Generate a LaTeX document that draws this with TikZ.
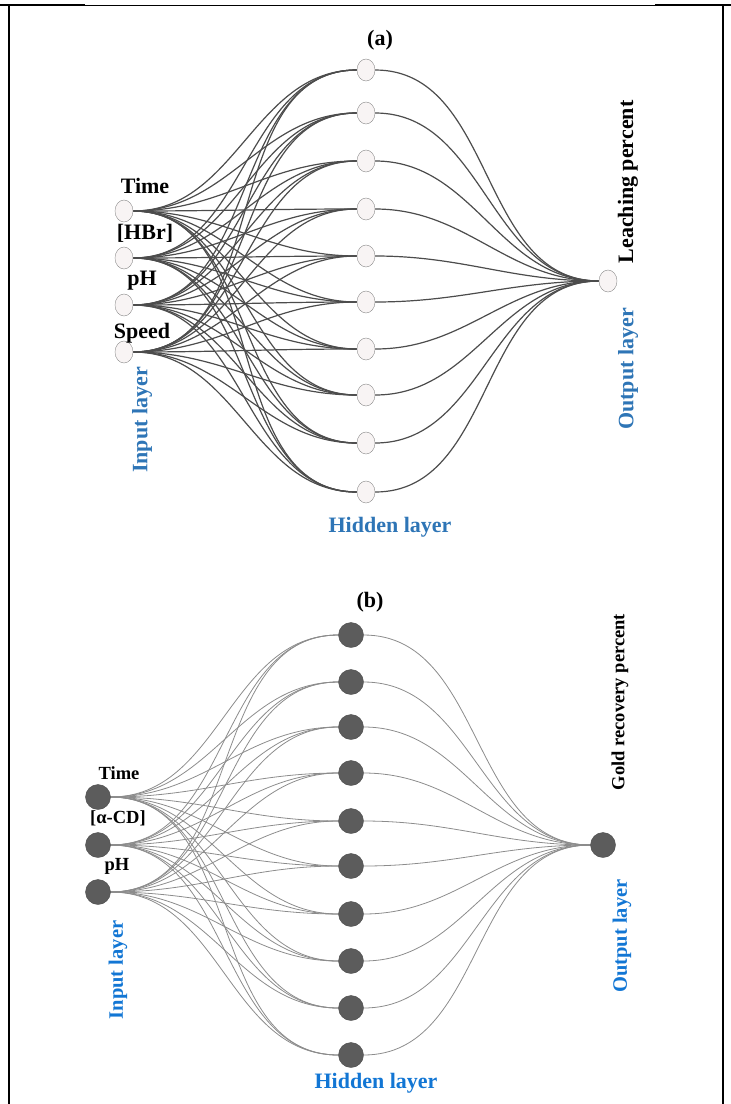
\documentclass[tikz,border=0pt]{standalone}
\usepackage{fontspec}
\setmainfont{Liberation Serif}
\usetikzlibrary{shapes.geometric, backgrounds}

\definecolor{layerblue}{RGB}{46,117,182}
\definecolor{layerblueb}{RGB}{18,118,212}
\definecolor{cellfill}{RGB}{248,244,244}
\definecolor{celldark}{RGB}{92,92,92}

\begin{document}
\begin{tikzpicture}[
    x=1pt, y=-1pt,
    neuron-a/.style={ellipse, draw=black!45, fill=cellfill, minimum width=18pt, minimum height=22pt, inner sep=0pt},
    neuron-b/.style={circle, draw=black!70, fill=celldark, minimum size=25pt, inner sep=0pt},
    wire-a/.style={draw=black!70, line width=1.2pt},
    wire-b/.style={draw=black!45, line width=0.8pt},
    varlabel/.style={font=\fontsize{22}{22}\selectfont\bfseries, inner sep=1pt},
    varlabel-b/.style={font=\fontsize{18.5}{18.5}\selectfont\bfseries, inner sep=1pt},
    layertext/.style={font=\fontsize{22}{22}\selectfont\bfseries, text=layerblue, inner sep=1pt},
    layertext-b/.style={font=\fontsize{20.5}{20.5}\selectfont\bfseries, text=layerblueb, inner sep=1pt}
]
\useasboundingbox (0,0) rectangle (731,1104);

% Frame
\draw[line width=2pt] (0,5) -- (85,5);
\draw[line width=0.6pt] (85,5) -- (655,5);
\draw[line width=2pt] (655,5) -- (731,5);
\draw[line width=2pt] (9,4) -- (9,1104);
\draw[line width=2pt] (723,4) -- (723,1104);

%%% (a)
\node[varlabel] (title-a) at (380,40) {(a)};

% Input layer
\foreach \y [count=\i] in {211,258,305,352}
  \node[neuron-a] (in-a-\i) at (124,\y) {};
\node[varlabel] (time-a) at (145,186) {Time};
\node[varlabel] (hbr-a) at (145,233) {[HBr]};
\node[varlabel] (ph-a) at (142,281) {pH};
\node[varlabel] (speed-a) at (142,333) {Speed};
\node[layertext, rotate=90] (input-a) at (142,420) {Input layer};

% Hidden layer
\foreach \y [count=\i] in {70,113,161,209,256,302,349,395,443,492}
  \node[neuron-a] (hid-a-\i) at (366,\y) {};
\node[layertext] (hidden-a) at (390,527) {Hidden layer};

% Output layer
\node[neuron-a] (out-a) at (608,281) {};
\node[varlabel, rotate=90] (leach-a) at (628,182) {Leaching percent};
\node[layertext, rotate=90] (output-a) at (628,369) {Output layer};

% Connections
\begin{scope}[on background layer]
\foreach \i in {1,...,4}
  \foreach \j in {1,...,10}
    \draw[wire-a] (in-a-\i) to[out=0, in=180] (hid-a-\j);
\foreach \j in {1,...,10}
  \draw[wire-a] (hid-a-\j) to[out=0, in=180] (out-a);
\end{scope}

%%% (b)
\node[varlabel] (title-b) at (370,602) {(b)};

% Input layer
\foreach \y [count=\i] in {797,845,892}
  \node[neuron-b] (in-b-\i) at (98,\y) {};
\node[varlabel-b] (time-b) at (119,773) {Time};
\node[varlabel-b] (acd-b) at (118,818) {[α-CD]};
\node[varlabel-b] (ph-b) at (117,866) {pH};
\node[layertext-b, rotate=90] (input-b) at (118,970) {Input layer};

% Hidden layer
\foreach \y [count=\i] in {635,682,727,773,821,866,914,961,1008,1055}
  \node[neuron-b] (hid-b-\i) at (351,\y) {};
\node[layertext-b, font=\fontsize{22}{22}\selectfont\bfseries] (hidden-b) at (376,1083) {Hidden layer};

% Output layer
\node[neuron-b] (out-b) at (603,845) {};
\node[varlabel-b, rotate=90] (gold-b) at (620,702) {Gold recovery percent};
\node[layertext-b, rotate=90] (output-b) at (622,936) {Output layer};

% Connections
\begin{scope}[on background layer]
\foreach \i in {1,...,3}
  \foreach \j in {1,...,10}
    \draw[wire-b] (in-b-\i) to[out=0, in=180] (hid-b-\j);
\foreach \j in {1,...,10}
  \draw[wire-b] (hid-b-\j) to[out=0, in=180] (out-b);
\end{scope}

\end{tikzpicture}
\end{document}
